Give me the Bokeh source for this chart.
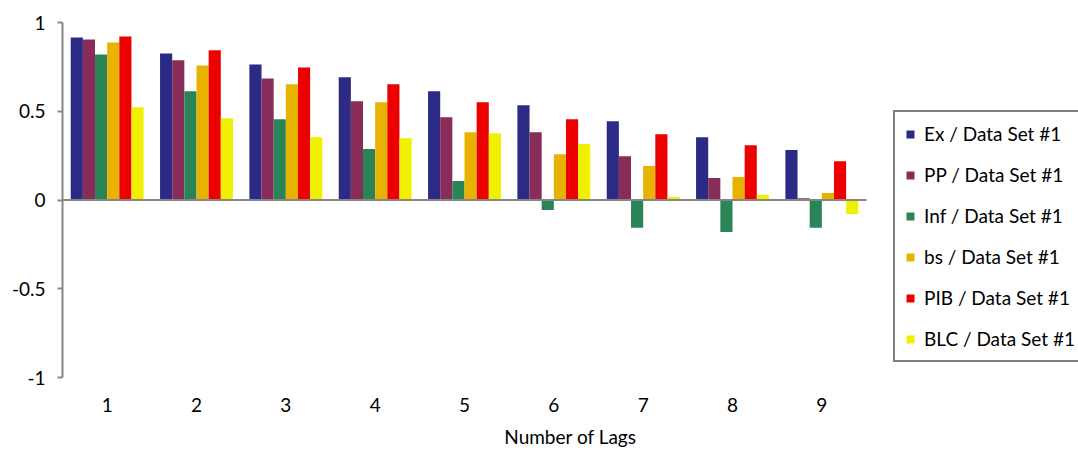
from bokeh.plotting import figure
from bokeh.models import (Range1d, FixedTicker, Legend, LegendItem, ColumnDataSource,
                          CustomJSTickFormatter)
from bokeh.embed import file_html
from bokeh.resources import INLINE

lags = [1, 2, 3, 4, 5, 6, 7, 8, 9]
series_names = ["Ex / Data Set #1", "PP / Data Set #1", "Inf / Data Set #1",
                "bs / Data Set #1", "PIB / Data Set #1", "BLC / Data Set #1"]
ex = [0.916, 0.826, 0.764, 0.691, 0.612, 0.534, 0.444, 0.354, 0.281]
pp = [0.904, 0.787, 0.685, 0.556, 0.466, 0.382, 0.247, 0.124, 0.010]
inf = [0.820, 0.612, 0.455, 0.287, 0.107, -0.056, -0.157, -0.180, -0.157]
bs = [0.888, 0.758, 0.652, 0.551, 0.382, 0.258, 0.191, 0.129, 0.039]
pib = [0.921, 0.843, 0.747, 0.652, 0.551, 0.455, 0.371, 0.309, 0.219]
blc = [0.522, 0.461, 0.354, 0.348, 0.376, 0.315, 0.017, 0.028, -0.079]
series = [ex, pp, inf, bs, pib, blc]
y_ticks = [-1, -0.5, 0, 0.5, 1]
colors = ["#2B2B86", "#882D5A", "#2B8456", "#E8B200", "#EC0000", "#F0F000"]

FONT = "Lato"
FS = "19px"
W, H = 1078, 450
LEFT, TOP, BOTTOM, RIGHT = 62, 22, 72, 0
frame_w = W - LEFT - RIGHT
cat_px = 804 / len(lags)  # pixel width of one lag category in the plot area
x_start = min(lags) - 0.5
x_end = x_start + frame_w / cat_px

p = figure(width=W, height=H, output_backend="svg", toolbar_location=None,
           x_range=Range1d(x_start, x_end), y_range=Range1d(-1, 1),
           min_border_left=LEFT, min_border_top=TOP, min_border_bottom=BOTTOM,
           min_border_right=RIGHT)
p.outline_line_color = None
p.xgrid.visible = False
p.ygrid.visible = False

bw = 0.136
items = []
for j, (vals, name, c) in enumerate(zip(series, series_names, colors)):
    src = ColumnDataSource(dict(x=[l + (j - 2.5) * bw for l in lags], top=vals))
    r = p.vbar(x="x", top="top", bottom=0, width=bw, source=src,
               fill_color=c, line_color=None)
    items.append(LegendItem(label=name, renderers=[r]))

# horizontal axis line at zero, across the category area
p.segment(x0=[min(lags) - 0.5], x1=[max(lags) + 0.5], y0=[0], y1=[0],
          line_color="#868686", line_width=2)

# y axis
p.yaxis.ticker = FixedTicker(ticks=y_ticks)
p.yaxis.formatter = CustomJSTickFormatter(code="return tick.toString();")
p.yaxis.axis_line_color = "#868686"
p.yaxis.axis_line_width = 2
p.yaxis.major_tick_line_color = "#868686"
p.yaxis.major_tick_line_width = 2
p.yaxis.major_tick_out = 5
p.yaxis.major_tick_in = 0
p.yaxis.minor_tick_line_color = None
p.yaxis.major_label_text_font = FONT
p.yaxis.major_label_text_font_size = FS
p.yaxis.major_label_text_color = "black"
p.yaxis.major_label_standoff = 12

# x axis
p.xaxis.ticker = FixedTicker(ticks=lags)
p.xaxis.axis_line_color = None
p.xaxis.major_tick_line_color = None
p.xaxis.minor_tick_line_color = None
p.xaxis.major_tick_out = 0
p.xaxis.major_tick_in = 0
p.xaxis.major_label_text_font = FONT
p.xaxis.major_label_text_font_size = FS
p.xaxis.major_label_text_color = "black"
p.xaxis.major_label_standoff = 20
p.xaxis.axis_label = "Number of Lags"
p.xaxis.axis_label_text_font = FONT
p.xaxis.axis_label_text_font_size = FS
p.xaxis.axis_label_text_font_style = "normal"
p.xaxis.axis_label_text_color = "black"
p.xaxis.axis_label_standoff = 10

legend = Legend(items=items, location=(831, 15), margin=0, padding=10,
                spacing=18, label_height=20, glyph_height=10, glyph_width=10,
                label_standoff=9, label_text_font=FONT, label_text_font_size=FS,
                label_text_color="black", border_line_color="black",
                border_line_width=2, background_fill_color="white")
p.add_layout(legend, "center")

open("out.html", "w").write(file_html(p, INLINE))
